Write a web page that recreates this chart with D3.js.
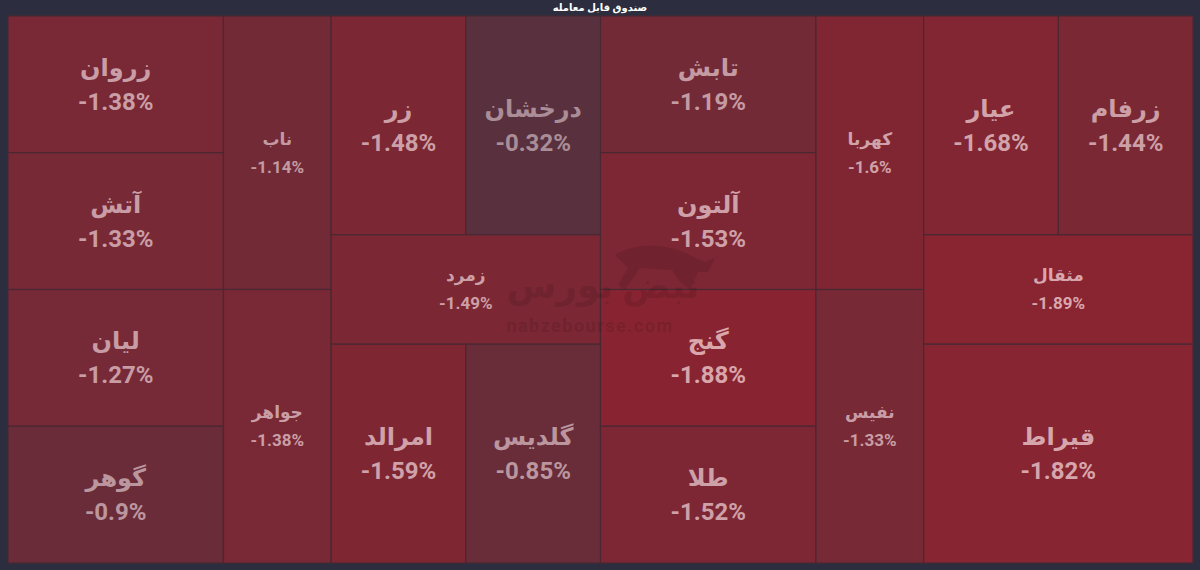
<!DOCTYPE html>
<html><head><meta charset="utf-8">
<script src="https://cdn.jsdelivr.net/npm/d3@7"></script>
<style>
html,body{margin:0;padding:0;background:#2c2e3f;}
svg{display:block;}
text{font-family:Roboto,"DejaVu Sans",sans-serif;font-weight:bold;}
</style></head>
<body>
<svg id="chart" width="1200" height="570"></svg>
<script>
const title = "صندوق قابل معامله";
const names   = ["زروان","آتش","لیان","گوهر","ناب","جواهر","زر","درخشان","زمرد","امرالد","گلدیس","تابش","آلتون","گنج","طلا","کهربا","نفیس","عیار","زرفام","مثقال","قیراط"];
const changes = [-1.38,-1.33,-1.27,-0.9,-1.14,-1.38,-1.48,-0.32,-1.49,-1.59,-0.85,-1.19,-1.53,-1.88,-1.52,-1.6,-1.33,-1.68,-1.44,-1.89,-1.82];
const weights = [1,1,1,1,1,1,1,1,1,1,1,1,1,1,1,1,1,1,1,1,2];
const columnOf= [0,0,0,0,1,1,2,2,2,2,2,3,3,3,3,4,4,5,5,5,5];
const rowOf   = [0,1,2,3,0,1,0,0,1,2,2,0,1,2,3,0,1,0,0,1,2];

const W = 1200, H = 570;
const area = {x0: 8, y0: 16, x1: 1193, y1: 563};

const cols = d3.groups(names.map((n,i)=>({name:n, change:changes[i], weight:weights[i], col:columnOf[i], row:rowOf[i]})), d=>d.col, d=>d.row);
const rootData = {name:"root", children: cols.map(([c, rows]) => ({name:"c"+c, children: rows.map(([r, cells]) => ({name:"r"+r, children: cells}))}))};

const root = d3.hierarchy(rootData, d => d.children).sum(d => d.children ? 0 : d.weight);
d3.treemap().tile(d3.treemapSliceDice).size([area.x1-area.x0, area.y1-area.y0]).round(false)(root);

const svg = d3.select("#chart");
svg.append("rect").attr("width",W).attr("height",H).attr("fill","#2c2e3f");

svg.append("text").attr("x",600).attr("y",11).attr("text-anchor","middle")
  .attr("fill","#ffffff").attr("font-size",10).attr("font-weight","bold").text(title);

const fill = d3.scaleLinear().domain([0,-2]).range(["#4f3441","#8c2330"]).clamp(true);
const txt  = d3.scaleLinear().domain([0,-2]).range(["#a28893","#dca8ae"]).clamp(true);

const g = svg.append("g").attr("transform",`translate(${area.x0},${area.y0})`);
const leaves = root.leaves();

g.selectAll("rect.cell").data(leaves).join("rect").attr("class","cell")
  .attr("x",d=>d.x0).attr("y",d=>d.y0)
  .attr("width",d=>d.x1-d.x0).attr("height",d=>d.y1-d.y0)
  .attr("fill",d=>fill(d.data.change))
  .attr("stroke","#4a2833").attr("stroke-width",1.2);

// watermark
const wm = svg.append("g").attr("opacity",0.13).attr("fill","#1a0a10");
wm.append("text").attr("x",603).attr("y",298).attr("text-anchor","middle").attr("font-size",36)
  .attr("font-family","'DejaVu Sans',sans-serif").text("نبض بورس");
wm.append("text").attr("x",590).attr("y",332).attr("text-anchor","middle").attr("font-size",18)
  .attr("letter-spacing",1.5).text("nabzebourse.com");
wm.append("path").attr("d","M615,255 C640,240 670,245 690,255 L705,262 L715,258 L708,272 L698,272 L690,290 L680,282 L672,270 L640,268 L625,290 L618,285 L628,268 Z");

const labels = g.selectAll("g.lbl").data(leaves).join("g").attr("class","lbl")
  .attr("transform",d=>`translate(${(d.x0+d.x1)/2},${(d.y0+d.y1)/2})`);
labels.each(function(d){
  const w = d.x1-d.x0, h = d.y1-d.y0;
  const big = Math.min(w,h) > 120;
  const fs = big ? 24 : 17;
  const off = big ? 17 : 14;
  const s = d3.select(this);
  s.append("text").attr("text-anchor","middle").attr("y",-off+fs*0.35).attr("font-size",fs)
    .attr("fill",txt(d.data.change)).text(d.data.name);
  s.append("text").attr("text-anchor","middle").attr("y",off+fs*0.35).attr("font-size",fs)
    .attr("fill",txt(d.data.change)).text(d.data.change+"%");
});
</script>
</body></html>
